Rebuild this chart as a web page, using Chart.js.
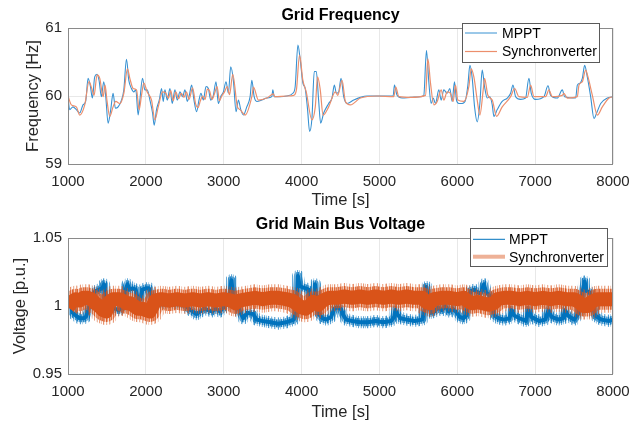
<!DOCTYPE html>
<html><head><meta charset="utf-8">
<script src="https://cdn.jsdelivr.net/npm/chart.js@4.4.1/dist/chart.umd.min.js"></script>
<style>
html,body{margin:0;padding:0;background:#fff;width:641px;height:425px;overflow:hidden}
canvas{position:absolute;left:0}
#c1{top:0}
#c2{top:212px}
</style></head><body>
<canvas id="c1" width="641" height="212"></canvas>
<canvas id="c2" width="641" height="213"></canvas>
<script>
// ---------- data ----------
const seriesNames = ['MPPT', 'Synchronverter'];
const timeTicks = [1000, 2000, 3000, 4000, 5000, 6000, 7000, 8000];
const freqTicks = [59, 60, 61];
const voltTicks = [0.95, 1, 1.05];

const freqMpptT = [1000,1021,1064,1107,1150,1193,1227,1258,1288,1313,1343,1373,1399,1429,1459,1485,1515,1549,1579,1609,1644,1687,1717,1751,1781,1815,1845,1871,1901,1923,1957,1987,2017,2052,2086,2107,2137,2172,2202,2223,2245,2275,2309,2339,2373,2403,2438,2472,2502,2532,2558,2588,2618,2652,2682,2708,2738,2773,2803,2833,2867,2901,2931,2961,2996,3030,3060,3090,3124,3159,3189,3219,3253,3296,3339,3361,3391,3425,3489,3554,3618,3631,3648,3725,3811,3888,3918,3953,3983,4017,4047,4077,4103,4133,4163,4189,4219,4245,4284,4348,4391,4421,4447,4477,4507,4541,4584,4670,4756,4841,5176,5193,5227,5291,5399,5527,5570,5604,5634,5664,5690,5720,5763,5793,5827,5870,5904,5934,5964,5990,6020,6063,6106,6136,6162,6192,6222,6256,6290,6320,6350,6384,6419,6449,6470,6513,6577,6642,6685,6715,6749,6813,6877,6920,6950,7006,7113,7165,7199,7285,7349,7379,7520,7542,7576,7606,7636,7670,7713,7756,7790,7842,7928,8000];
const freqMpptV = [59.99,59.80,59.84,59.80,59.75,59.87,59.92,60.26,60.14,59.97,60.28,60.32,60.23,59.99,60.21,59.99,59.60,59.80,60.04,59.82,59.84,59.94,60.09,60.54,60.23,60.11,60.06,60.09,59.72,59.94,60.26,60.09,60.09,59.94,59.75,59.57,59.80,59.94,60.11,59.92,60.09,59.94,60.11,59.89,60.09,59.94,60.06,59.99,60.09,59.92,60.01,60.16,59.94,59.77,59.94,60.04,59.94,60.14,60.11,59.94,60.01,60.21,59.89,59.99,60.06,60.21,60.04,60.43,60.23,59.77,59.94,59.80,59.72,59.84,59.99,60.23,59.99,59.92,59.94,59.97,59.99,60.09,59.99,59.99,60.00,60.04,60.14,60.75,60.53,60.19,60.11,59.80,59.48,59.67,60.36,60.36,59.94,59.60,59.75,59.89,59.97,60.16,60.04,60.06,60.26,59.99,59.89,59.94,59.98,60.00,60.00,60.16,60.01,59.97,59.98,59.99,60.01,60.67,60.21,59.89,59.97,59.89,60.09,59.94,60.09,60.04,60.11,59.92,60.21,59.94,59.89,59.89,59.94,60.16,60.45,60.26,59.84,59.62,59.89,60.38,60.14,59.97,59.99,59.87,59.70,59.80,59.92,59.97,60.04,60.16,59.99,59.95,59.97,60.26,60.04,59.95,59.99,60.15,60.01,59.97,60.09,59.99,59.97,60.16,60.19,60.26,60.45,60.28,59.99,59.67,59.75,59.89,59.97,59.99];

const freqSyncT = [1000,1043,1107,1150,1215,1270,1305,1335,1373,1408,1451,1476,1502,1536,1579,1614,1665,1717,1764,1794,1837,1880,1914,1944,1974,2017,2073,2116,2159,2215,2250,2290,2320,2350,2385,2420,2455,2490,2520,2555,2600,2640,2670,2700,2730,2760,2790,2820,2850,2880,2915,2945,2975,3010,3045,3075,3116,3176,3210,3275,3361,3382,3446,3554,3640,3655,3811,3901,3935,3974,4017,4060,4133,4176,4206,4240,4276,4348,4434,4464,4520,4563,4627,4756,4970,5184,5210,5249,5399,5592,5622,5656,5699,5742,5793,5827,5870,5913,5947,5977,6007,6084,6149,6179,6213,6256,6290,6333,6350,6393,6449,6505,6577,6685,6736,6792,6899,6942,6985,7135,7177,7220,7349,7370,7413,7542,7563,7606,7649,7679,7735,7799,7863,7949,8000];
const freqSyncV = [60.00,59.87,59.84,59.72,59.87,60.21,60.11,60.01,60.31,60.26,59.99,60.16,59.92,59.70,59.84,59.92,59.89,60.04,60.40,60.26,60.11,60.09,59.80,60.01,60.19,60.06,59.94,59.65,59.84,60.06,60.05,59.97,60.08,59.93,60.06,59.96,60.04,59.98,60.06,59.95,60.12,59.88,59.83,59.93,60.00,59.95,60.10,60.07,59.95,60.03,60.14,59.93,60.00,60.06,60.14,60.02,60.32,59.84,59.80,59.72,59.99,60.13,59.94,59.97,60.03,59.99,60.00,60.01,60.10,60.60,60.23,60.06,59.65,59.84,60.28,60.09,59.72,59.84,60.06,60.01,60.23,59.92,59.87,59.97,60.00,59.99,60.13,59.99,59.98,60.01,60.55,60.19,59.87,59.92,60.09,59.94,60.06,60.04,59.92,60.16,59.94,59.92,60.14,60.40,60.28,59.94,59.72,60.09,60.26,60.01,59.94,59.70,59.84,59.99,60.11,59.99,59.98,60.16,59.99,59.99,60.09,59.99,60.01,60.04,59.97,59.99,60.16,60.21,60.38,60.28,60.01,59.72,59.84,59.97,59.99];

const voltMpptT = [1000,1030,1060,1100,1150,1200,1230,1260,1290,1320,1350,1400,1440,1463,1480,1500,1550,1600,1650,1700,1740,1764,1790,1830,1870,1900,1930,1955,2000,2040,2070,2100,2150,2200,2300,2400,2500,2550,2600,2650,2700,2750,2800,2850,2900,2950,3000,3060,3099,3120,3160,3200,3250,3300,3380,3420,3500,3600,3700,3800,3900,3935,3953,3975,4000,4050,4090,4120,4150,4172,4195,4220,4270,4320,4380,4420,4450,4505,4530,4570,4650,4750,4850,4950,5050,5150,5190,5206,5230,5270,5350,5450,5550,5590,5604,5625,5660,5710,5750,5800,5850,5890,5940,5980,6030,6080,6115,6140,6170,6220,6260,6300,6343,6370,6410,6450,6480,6530,6600,6670,6700,6730,6800,6880,6914,6950,7050,7130,7171,7210,7300,7360,7386,7420,7500,7560,7600,7636,7660,7700,7730,7770,7850,7950,8000];
const voltMpptV = [1.004,1.003,0.995,0.993,0.991,0.991,0.992,0.997,1.003,1.008,1.011,1.012,1.013,1.016,1.010,1.000,0.999,0.998,0.997,0.999,1.012,1.016,1.012,1.013,1.012,1.004,1.005,1.012,1.013,1.013,1.006,1.002,1.001,1.002,1.003,1.002,1.001,0.998,0.996,0.994,0.996,0.998,0.997,0.996,0.998,0.996,0.999,1.003,1.019,1.008,1.004,0.997,0.991,0.995,0.994,0.990,0.989,0.988,0.987,0.988,0.990,0.996,1.022,1.015,1.014,1.013,1.012,1.003,1.000,1.016,1.005,0.994,0.991,0.990,0.992,0.998,0.999,0.998,0.994,0.990,0.989,0.988,0.988,0.989,0.988,0.989,0.992,0.997,0.994,0.991,0.990,0.989,0.990,1.000,1.014,1.004,0.995,0.996,0.999,0.997,1.000,0.996,0.998,0.996,0.992,0.991,0.993,1.004,1.011,1.012,1.010,1.009,1.016,1.010,1.008,1.000,0.993,0.991,0.990,0.991,0.997,0.993,0.991,0.989,0.997,0.992,0.989,0.990,0.997,0.992,0.990,0.991,0.997,0.993,0.990,0.995,1.008,1.018,1.011,1.010,1.004,0.993,0.990,0.989,0.990];

const voltSyncT = [1000,1050,1100,1150,1200,1250,1300,1350,1400,1450,1490,1530,1580,1650,1700,1750,1800,1850,1900,1950,2000,2050,2080,2120,2200,2300,2400,2500,2600,2700,2800,2900,3000,3100,3150,3200,3300,3400,3500,3600,3700,3800,3880,3950,4000,4050,4100,4150,4220,4270,4350,4450,4550,4650,4750,4850,4950,5050,5150,5250,5350,5450,5550,5600,5650,5700,5800,5900,6000,6080,6150,6200,6260,6320,6400,6470,6520,6600,6700,6800,6900,7000,7100,7200,7300,7400,7500,7560,7620,7680,7720,7800,7900,8000];
const voltSyncV = [0.999,1.003,1.005,1.004,1.006,1.006,1.005,1.002,1.000,0.997,0.996,1.003,1.005,1.005,1.004,1.002,1.002,1.000,0.998,0.998,0.997,0.996,0.999,1.004,1.005,1.004,1.005,1.004,1.005,1.004,1.005,1.004,1.005,1.004,1.002,1.004,1.005,1.006,1.005,1.006,1.006,1.005,1.004,1.001,0.999,0.998,1.000,1.003,1.001,1.004,1.006,1.006,1.007,1.006,1.007,1.006,1.007,1.006,1.007,1.006,1.007,1.006,1.006,1.003,1.002,1.005,1.006,1.006,1.005,1.006,1.003,1.002,1.003,1.002,1.001,1.002,1.005,1.006,1.006,1.005,1.006,1.005,1.006,1.005,1.006,1.005,1.005,1.003,1.000,1.000,1.003,1.005,1.005,1.005];

// ---------- styling ----------
const BLUE = '#0072BD', ORANGE = '#D95319';
const FONT = 'Liberation Sans, Arial, sans-serif';
Chart.defaults.font.family = FONT;
// stroke textures for the noisy bands (purely visual, per-pixel-column alpha)
const textureA = [0.8,0.1,0.5,0.0,0.9,0.2,0.0,0.6,0.15,0.0,0.7,0.3,0.0,0.1,0.85,0.0,0.4,0.05,0.0,0.65,0.2,0.0,0.5,0.9,0.0,0.1,0.35,0.0,0.75,0.0,0.2,0.55,0.0];
const textureB = [0.9,0.5,0.7,0.3,1.0,0.6,0.2,0.8,0.45,0.95,0.3,0.7,0.5,0.85,0.25,0.9,0.6];

function pts(T, V) { return T.map((t, i) => ({ x: t, y: V[i] })); }

function stripePattern(alphas, rgb, scale) {
  const c = document.createElement('canvas');
  c.width = alphas.length; c.height = 1;
  const g = c.getContext('2d');
  alphas.forEach((a, i) => {
    g.fillStyle = 'rgba(' + rgb + ',' + (a * scale).toFixed(3) + ')';
    g.fillRect(i, 0, 1, 1);
  });
  return g.createPattern(c, 'repeat');
}

const deco = {
  id: 'deco',
  afterDatasetsDraw(chart, args, o) {
    const ctx = chart.ctx, a = chart.chartArea;
    ctx.save();
    ctx.strokeStyle = '#8a8a8a'; ctx.lineWidth = 1;
    ctx.strokeRect(Math.round(a.left) + 0.5, Math.round(a.top) + 0.5, Math.round(a.right - a.left) - 1, Math.round(a.bottom - a.top));
    const cx = (a.left + a.right) / 2;
    ctx.fillStyle = '#000'; ctx.textAlign = 'center'; ctx.textBaseline = 'middle';
    ctx.font = 'bold 16px ' + FONT;
    ctx.fillText(o.title, cx, o.titleY);
    ctx.fillStyle = '#262626';
    ctx.font = '16.5px ' + FONT;
    ctx.fillText('Time [s]', cx, o.xlabelY);
    ctx.save();
    ctx.translate(o.ylabelX, (a.top + a.bottom) / 2);
    ctx.rotate(-Math.PI / 2);
    ctx.fillText(o.ylabel, 0, 0);
    ctx.restore();
    const L = o.legend;
    ctx.fillStyle = '#fff';
    ctx.fillRect(L.x, L.y, L.w, L.h);
    ctx.strokeStyle = '#5a5a5a'; ctx.lineWidth = 1;
    ctx.strokeRect(L.x + 0.5, L.y + 0.5, L.w, L.h);
    ctx.font = '14px ' + FONT; ctx.textAlign = 'left';
    L.rows.forEach((r, i) => {
      const y = L.rowY[i];
      ctx.strokeStyle = r.color; ctx.lineWidth = r.width;
      ctx.beginPath(); ctx.moveTo(L.sx0, y); ctx.lineTo(L.sx1, y); ctx.stroke();
      ctx.fillStyle = '#000';
      ctx.fillText(seriesNames[i], L.tx, y + 1);
    });
    ctx.restore();
  }
};

function axes(yMin, yMax, yTicks, xH) {
  const tickFont = { size: 15 };
  return {
    x: {
      type: 'linear', min: 1000, max: 8000,
      afterBuildTicks: s => { s.ticks = timeTicks.map(v => ({ value: v })); },
      afterFit: s => { s.height = xH; },
      ticks: { font: tickFont, color: '#262626', padding: 9, maxRotation: 0, autoSkip: false, callback: v => String(v) },
      grid: { color: '#e8e8e8', drawTicks: false },
      border: { display: false }
    },
    y: {
      type: 'linear', min: yMin, max: yMax,
      afterBuildTicks: s => { s.ticks = yTicks.map(v => ({ value: v })); },
      afterFit: s => { s.width = 68; },
      ticks: { font: tickFont, color: '#262626', padding: 6, callback: v => String(v) },
      grid: { color: '#e8e8e8', drawTicks: false },
      border: { display: false }
    }
  };
}

const common = {
  responsive: false, animation: false, events: [],
  plugins: { legend: { display: false }, title: { display: false }, tooltip: { enabled: false } },
  elements: { point: { radius: 0 } }
};

const topBlue = 'rgb(55,145,210)', topOrange = 'rgb(236,142,108)';

new Chart(document.getElementById('c1'), {
  type: 'line',
  data: {
    datasets: [
      { label: seriesNames[0], data: pts(freqMpptT, freqMpptV), borderColor: topBlue, borderWidth: 1.1, cubicInterpolationMode: 'monotone', order: 2 },
      { label: seriesNames[1], data: pts(freqSyncT, freqSyncV), borderColor: topOrange, borderWidth: 1.2, cubicInterpolationMode: 'monotone', order: 1 }
    ]
  },
  options: Object.assign({}, common, {
    layout: { padding: { top: 28, right: 28, left: 0, bottom: 0 } },
    scales: axes(59, 61, freqTicks, 48),
    plugins: Object.assign({}, common.plugins, {
      deco: {
        title: 'Grid Frequency', titleY: 16, xlabelY: 200, ylabel: 'Frequency [Hz]', ylabelX: 33,
        legend: { x: 462, y: 23, w: 137, h: 39, sx0: 465, sx1: 497, tx: 502, rowY: [33, 51.5],
          rows: [{ color: topBlue, width: 1 }, { color: topOrange, width: 1.2 }] }
      }
    })
  }),
  plugins: [deco]
});

const lineBase = { borderJoinStyle: 'round', borderCapStyle: 'butt' };
new Chart(document.getElementById('c2'), {
  type: 'line',
  data: {
    datasets: [
      Object.assign({ data: pts(voltMpptT, voltMpptV), borderColor: stripePattern(textureA, '0,114,189', 0.8), borderWidth: 12, order: 6 }, lineBase),
      Object.assign({ data: pts(voltMpptT, voltMpptV), borderColor: stripePattern(textureB, '0,114,189', 0.9), borderWidth: 8, order: 5 }, lineBase),
      Object.assign({ label: seriesNames[0], data: pts(voltMpptT, voltMpptV), borderColor: BLUE, borderWidth: 4, order: 4 }, lineBase),
      Object.assign({ data: pts(voltSyncT, voltSyncV), borderColor: stripePattern(textureA, '217,83,25', 0.7), borderWidth: 27, order: 3 }, lineBase),
      Object.assign({ data: pts(voltSyncT, voltSyncV), borderColor: stripePattern(textureB, '217,83,25', 0.9), borderWidth: 21, order: 2 }, lineBase),
      Object.assign({ label: seriesNames[1], data: pts(voltSyncT, voltSyncV), borderColor: ORANGE, borderWidth: 14, order: 1 }, lineBase)
    ]
  },
  options: Object.assign({}, common, {
    layout: { padding: { top: 26, right: 28, left: 0, bottom: 0 } },
    scales: axes(0.95, 1.05, voltTicks, 51),
    plugins: Object.assign({}, common.plugins, {
      deco: {
        title: 'Grid Main Bus Voltage', titleY: 13, xlabelY: 200, ylabel: 'Voltage [p.u.]', ylabelX: 20,
        legend: { x: 470, y: 16, w: 137, h: 38, sx0: 473, sx1: 505, tx: 509, rowY: [27.3, 44.7],
          rows: [{ color: BLUE, width: 1 }, { color: 'rgba(217,83,25,0.45)', width: 4 }] }
      }
    })
  }),
  plugins: [deco]
});
</script>
</body></html>
